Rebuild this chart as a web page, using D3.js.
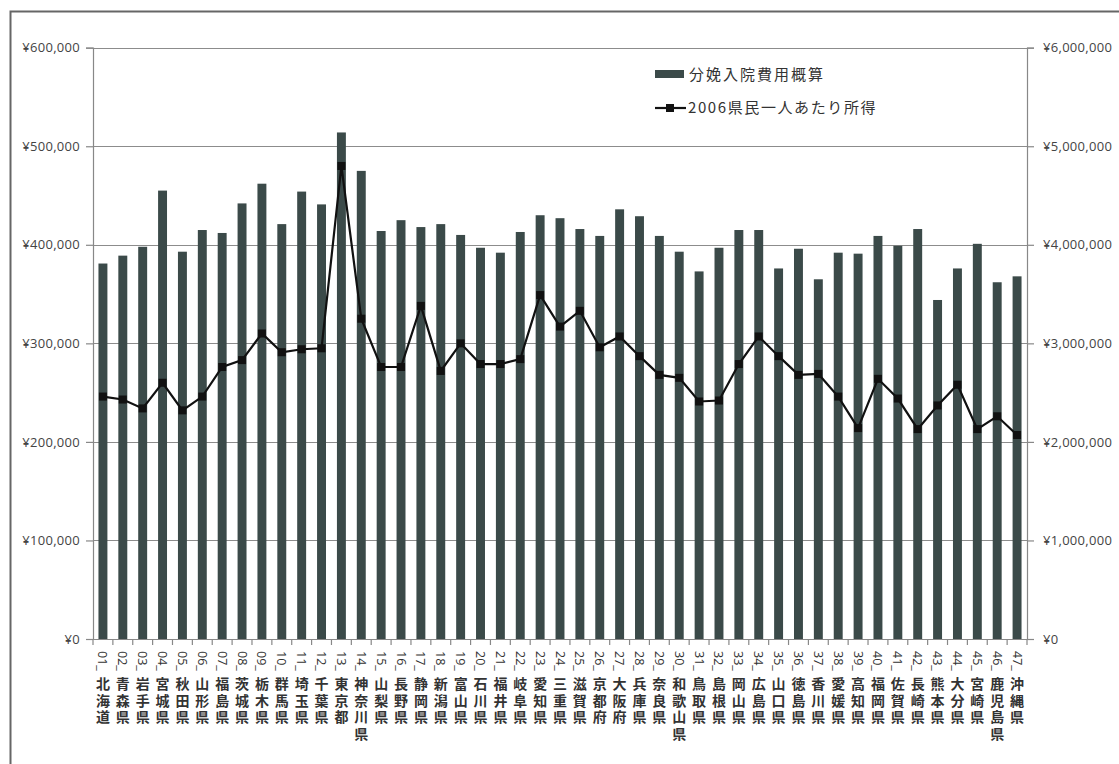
<!DOCTYPE html>
<html>
<head>
<meta charset="utf-8">
<script src="https://cdn.jsdelivr.net/npm/d3@7"></script>
<style>
  html, body { margin: 0; padding: 0; background: #fff; }
  svg { display: block; }
</style>
</head>
<body>
<svg id="chart" width="1119" height="764"></svg>
<script>
const categories = ["01_北海道","02_青森県","03_岩手県","04_宮城県","05_秋田県","06_山形県","07_福島県","08_茨城県","09_栃木県","10_群馬県","11_埼玉県","12_千葉県","13_東京都","14_神奈川県","15_山梨県","16_長野県","17_静岡県","18_新潟県","19_富山県","20_石川県","21_福井県","22_岐阜県","23_愛知県","24_三重県","25_滋賀県","26_京都府","27_大阪府","28_兵庫県","29_奈良県","30_和歌山県","31_鳥取県","32_島根県","33_岡山県","34_広島県","35_山口県","36_徳島県","37_香川県","38_愛媛県","39_高知県","40_福岡県","41_佐賀県","42_長崎県","43_熊本県","44_大分県","45_宮崎県","46_鹿児島県","47_沖縄県"];

const deliveryCost = [381000,389000,398000,455000,393000,415000,412000,442000,462000,421000,454000,441000,514000,475000,414000,425000,418000,421000,410000,397000,392000,413000,430000,427000,416000,409000,436000,429000,409000,393000,373000,397000,415000,415000,376000,396000,365000,392000,391000,409000,399000,416000,344000,376000,401000,362000,368000];

const income2006 = [2460000,2430000,2340000,2600000,2320000,2460000,2760000,2830000,3100000,2910000,2940000,2950000,4800000,3250000,2760000,2760000,3380000,2720000,3000000,2790000,2790000,2840000,3490000,3170000,3330000,2960000,3070000,2870000,2680000,2650000,2410000,2420000,2790000,3070000,2870000,2680000,2690000,2460000,2140000,2640000,2440000,2130000,2370000,2580000,2130000,2260000,2070000];

const leftTicks = [0,100000,200000,300000,400000,500000,600000];
const rightTicks = [0,1000000,2000000,3000000,4000000,5000000,6000000];
const seriesNames = ["分娩入院費用概算","2006県民一人あたり所得"];

const svg = d3.select("#chart");
const plot = {left: 93, right: 1027, top: 47.7, bottom: 639};
const barColor = "#3b4a49";
const tickFont = "'Open Sans', 'Noto Sans', sans-serif";
const jpFont = "'Noto Sans CJK JP', sans-serif";

// outer frame
svg.append("path").attr("d", `M10.5,764 V11.5 H1119`).attr("fill","none").attr("stroke","#666").attr("stroke-width",2);

const x = d3.scaleBand().domain(categories).range([plot.left, plot.right]).paddingInner(0.55).paddingOuter(0.275);
const yL = d3.scaleLinear().domain([0,600000]).range([plot.bottom, plot.top]);
const yR = d3.scaleLinear().domain([0,6000000]).range([plot.bottom, plot.top]);

// gridlines
svg.append("g").selectAll("line").data(leftTicks.filter(d => d > 0)).join("line")
  .attr("x1", plot.left).attr("x2", plot.right)
  .attr("y1", d => Math.round(yL(d)) + 0.5).attr("y2", d => Math.round(yL(d)) + 0.5)
  .attr("stroke", "#8c8c8c").attr("stroke-width", 1.2);

// bars
svg.append("g").selectAll("rect").data(categories).join("rect")
  .attr("x", d => x(d)).attr("width", x.bandwidth())
  .attr("y", (d,i) => yL(deliveryCost[i]))
  .attr("height", (d,i) => plot.bottom - yL(deliveryCost[i]))
  .attr("fill", barColor);

// axes
const fmt = d => "¥" + d3.format(",")(d);
const gL = svg.append("g").attr("transform", `translate(${plot.left},0)`)
  .call(d3.axisLeft(yL).tickValues(leftTicks).tickFormat(fmt).tickSize(7).tickPadding(6));
const gR = svg.append("g").attr("transform", `translate(${plot.right},0)`)
  .call(d3.axisRight(yR).tickValues(rightTicks).tickFormat(fmt).tickSize(7).tickPadding(9));
[gL, gR].forEach(g => {
  g.select(".domain").attr("stroke", "#888").attr("stroke-width", 1.2);
  g.selectAll(".tick line").attr("stroke", "#888").attr("stroke-width", 1.2);
  g.selectAll(".tick text").attr("fill", "#444").style("font-family", tickFont).style("font-size", "13px").style("letter-spacing", "0.3px");
});

// bottom axis
svg.append("line").attr("x1", plot.left).attr("x2", plot.right)
  .attr("y1", plot.bottom + 0.5).attr("y2", plot.bottom + 0.5)
  .attr("stroke", "#888").attr("stroke-width", 1.2);
const bTicks = d3.range(categories.length + 1).map(i => plot.left + (plot.right - plot.left) * i / categories.length);
svg.append("g").selectAll("line").data(bTicks).join("line")
  .attr("x1", d => d).attr("x2", d => d)
  .attr("y1", plot.bottom).attr("y2", plot.bottom + 6)
  .attr("stroke", "#888").attr("stroke-width", 1.2);

// category labels (vertical)
const labG = svg.append("g");
categories.forEach(c => {
  const cx = x(c) + x.bandwidth() / 2;
  const num = c.slice(0, 3);
  const name = c.slice(3);
  labG.append("text")
    .attr("transform", `translate(${cx},${651}) rotate(90)`)
    .attr("dominant-baseline", "central")
    .attr("text-anchor", "start")
    .style("font-family", tickFont).style("font-size", "12.5px").attr("fill", "#333")
    .text(num);
  const t = labG.append("text").attr("text-anchor", "middle").style("font-family", jpFont)
    .style("font-size", "14px").style("font-weight", "bold").attr("fill", "#333");
  Array.from(name).forEach((ch, k) => {
    t.append("tspan").attr("x", cx).attr("y", 689 + k * 16.5).text(ch);
  });
});

// income line
const line = d3.line().x((d,i) => x(categories[i]) + x.bandwidth()/2).y(d => yR(d));
svg.append("path").datum(income2006).attr("d", line)
  .attr("fill", "none").attr("stroke", "#111").attr("stroke-width", 2.2);
svg.append("g").selectAll("rect").data(income2006).join("rect")
  .attr("x", (d,i) => x(categories[i]) + x.bandwidth()/2 - 4)
  .attr("y", d => yR(d) - 4)
  .attr("width", 8).attr("height", 8).attr("fill", "#111");

// legend
const lg = svg.append("g");
lg.append("rect").attr("x", 655).attr("y", 70).attr("width", 29).attr("height", 8).attr("fill", barColor);
lg.append("text").attr("x", 689).attr("y", 80).text(seriesNames[0])
  .style("font-family", jpFont).style("font-size", "15px").style("letter-spacing", "2px").attr("fill", "#333");
lg.append("line").attr("x1", 655).attr("x2", 686).attr("y1", 108).attr("y2", 108).attr("stroke", "#111").attr("stroke-width", 2.2);
lg.append("rect").attr("x", 666).attr("y", 104).attr("width", 8).attr("height", 8).attr("fill", "#111");
lg.append("text").attr("x", 688).attr("y", 113).text(seriesNames[1])
  .style("font-family", jpFont).style("font-size", "15px").style("letter-spacing", "1.6px").attr("fill", "#333");
</script>
</body>
</html>
